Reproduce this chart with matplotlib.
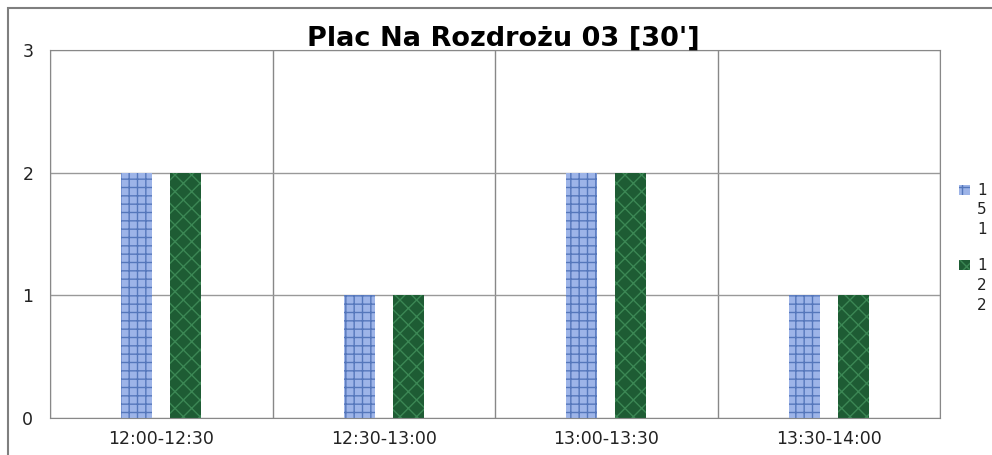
import matplotlib.pyplot as plt
import numpy as np
from matplotlib.patches import Rectangle

# dane
przedzialy = ["12:00-12:30", "12:30-13:00", "13:00-13:30", "13:30-14:00"]
seria_151 = [2, 1, 2, 1]
seria_122 = [2, 1, 2, 1]
etykiety = ["151", "122"]

kolory = ["#9db4e8", "#1e5c34"]
kreski = ["#5577bb", "#3b8754"]
wzory = ["++", "xx"]

fig = plt.figure(figsize=(9.92, 4.55), dpi=100)
ax = fig.add_axes([50/992, 1-418/455, 890/992, 368/455])

# ramka wykresu
fig.patches.append(Rectangle((8/992, -0.05), 1.2, 1-8/455+0.05, transform=fig.transFigure,
                             fill=False, edgecolor="#7f7f7f", linewidth=1.5))

x = np.arange(len(przedzialy))
w = 0.14
off = 0.11
ax.bar(x - off, seria_151, w, color=kolory[0], edgecolor=kreski[0], hatch=wzory[0], linewidth=0)
ax.bar(x + off, seria_122, w, color=kolory[1], edgecolor=kreski[1], hatch=wzory[1], linewidth=0)

ax.set_xlim(-0.5, len(przedzialy) - 0.5)
ax.set_ylim(0, 3)
ax.set_yticks([0, 1, 2, 3])
ax.set_xticks(x)
ax.set_xticklabels(przedzialy)
ax.tick_params(axis="both", length=0, labelsize=12.5, colors="#222222")
ax.tick_params(axis="x", pad=9)
ax.tick_params(axis="y", pad=12)
ax.set_xticks(np.arange(len(przedzialy) + 1) - 0.5, minor=True)
ax.grid(axis="y", color="#999999", linewidth=1)
ax.grid(axis="x", which="minor", color="#888888", linewidth=1)
ax.tick_params(which="minor", length=0)
ax.set_axisbelow(True)
for s in ax.spines.values():
    s.set_color("#888888")

fig.suptitle("Plac Na Rozdrożu 03 [30']", fontsize=19.5, fontweight="bold",
             x=503/992, y=1-39/455, va="center")

# legenda - etykiety zawiniete pionowo jak w oryginale
for i, (lab, y0) in enumerate(zip(etykiety, [190, 265])):
    fig.patches.append(Rectangle((959/992, 1-(y0+5)/455), 11/992, 10/455, transform=fig.transFigure,
                                 facecolor=kolory[i], edgecolor=kreski[i], hatch=wzory[i], linewidth=0))
    for j, ch in enumerate(lab):
        fig.text(977/992, 1-(y0+20*j)/455, ch, fontsize=11, va="center", ha="left", color="#222222")

plt.savefig("out.png", dpi=100)
plt.close()
